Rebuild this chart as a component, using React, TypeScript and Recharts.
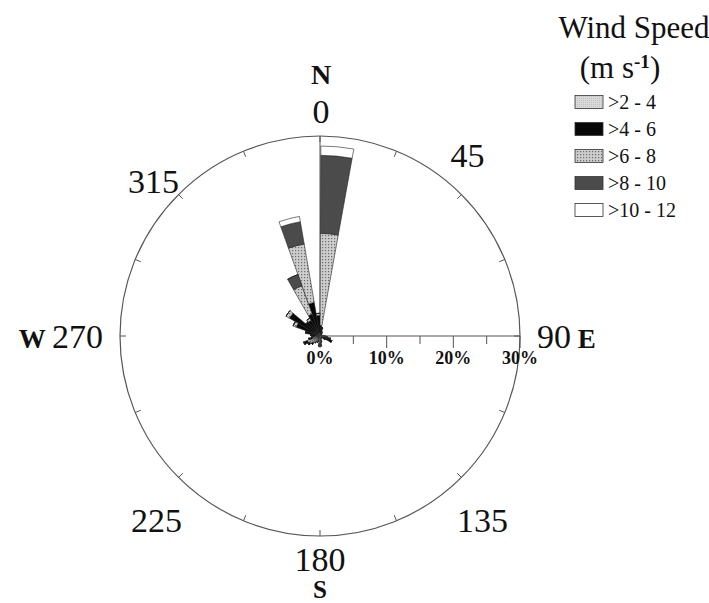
import { RadialBarChart, RadialBar, PolarAngleAxis, PolarRadiusAxis, PolarGrid } from 'recharts'

// centre of each 10° direction bin, clockwise from north
const BIN_CENTERS = [
  5, 15, 25, 35, 45, 55, 65, 75, 85,
  95, 105, 115, 125, 135, 145, 155, 165, 175,
  185, 195, 205, 215, 225, 235, 245, 255, 265,
  275, 285, 295, 305, 315, 325, 335, 345, 355,
]

// frequency (%) of each speed class per direction bin
const S2_4 = [
  0.6, 0.5, 0.4, 0.3, 0.3, 0.3, 0.2, 0.3, 0.4,
  0.5, 0.6, 0.5, 0.4, 0.3, 0.3, 0.4, 0.6, 1.0,
  1.1, 0.8, 1.0, 1.2, 1.4, 1.8, 2.0, 1.2, 0.8,
  0.6, 0.6, 0.5, 0.5, 0.4, 0.5, 0.5, 0.6, 0.5,
]
const S4_6 = [
  1.0, 0.8, 0.3, 0.2, 0, 0, 0, 0, 0.3,
  0.6, 1.0, 1.4, 0.5, 0, 0, 0, 0.3, 0.5,
  0.4, 0, 0, 0, 0.3, 0.3, 0.6, 0.5, 0.4,
  0.8, 1.6, 3.3, 4.8, 2.4, 2.2, 3.0, 4.5, 2.6,
]
const S6_8 = [
  13.8, 0, 0, 0, 0, 0, 0, 0, 0,
  0, 0, 0, 0, 0, 0, 0, 0, 0,
  0, 0, 0, 0, 0, 0, 0, 0, 0,
  0, 0, 0.5, 0.6, 0, 0.4, 4.5, 8.9, 0.3,
]
const S8_10 = [
  11.7, 0, 0, 0, 0, 0, 0, 0, 0,
  0, 0, 0, 0, 0, 0, 0, 0, 0,
  0, 0, 0, 0, 0, 0, 0, 0, 0,
  0, 0, 0, 0, 0, 0, 1.8, 3.4, 0,
]
const S10_12 = [
  1.4, 0, 0, 0, 0, 0, 0, 0, 0,
  0, 0, 0, 0, 0, 0, 0, 0, 0,
  0, 0, 0, 0, 0, 0, 0, 0, 0,
  0, 0, 0, 0, 0, 0, 0, 0.8, 0,
]

const SPEED_LABELS = ['>2 - 4', '>4 - 6', '>6 - 8', '>8 - 10', '>10 - 12']

const COMPASS_TICKS = [0, 22.5, 45, 67.5, 90, 112.5, 135, 157.5, 180, 202.5, 225, 247.5, 270, 292.5, 315, 337.5]
const COMPASS_LABELS = ['0', '45', '90', '135', '180', '225', '270', '315']
const CARDINALS: Record<string, string> = { '0': 'N', '90': 'E', '180': 'S', '270': 'W' }
const PCT_TICKS = [0, 5, 10, 15, 20, 25, 30]

const rows = BIN_CENTERS.map((deg, i) => ({
  deg,
  s1: S2_4[i],
  s2: S4_6[i],
  s3: S6_8[i],
  s4: S8_10[i],
  s5: S10_12[i],
}))

const SERIES = [
  { key: 's1', fill: 'url(#grain)' },
  { key: 's2', fill: '#080808' },
  { key: 's3', fill: 'url(#dots)' },
  { key: 's4', fill: '#4b4b4b' },
  { key: 's5', fill: '#ffffff' },
]

const SERIF = '"Liberation Serif", "Times New Roman", serif'
const LINE = '#555'

// where each degree label sits relative to its point on the circle
const LABEL_SPOT: Record<string, { dx: number; dy: number; anchor: string }> = {
  '0': { dx: 1, dy: -13, anchor: 'middle' },
  '45': { dx: 6, dy: -28, anchor: 'middle' },
  '90': { dx: 17, dy: 12, anchor: 'start' },
  '135': { dx: 21, dy: 55, anchor: 'middle' },
  '180': { dx: 0, dy: 35, anchor: 'middle' },
  '225': { dx: -22, dy: 55, anchor: 'middle' },
  '270': { dx: -17, dy: 12, anchor: 'end' },
  '315': { dx: -25, dy: -2, anchor: 'middle' },
}

const RAD = Math.PI / 180
const polar = (cx: number, cy: number, r: number, angle: number) => ({
  x: cx + r * Math.cos(-angle * RAD),
  y: cy + r * Math.sin(-angle * RAD),
})

function CompassTick(props: any) {
  const { cx, cy, radius, payload } = props
  const angle = payload.coordinate
  const outer = polar(cx, cy, radius, angle)
  const inner = polar(cx, cy, radius - 6, angle)
  const value = payload.value
  const label = value % 45 === 0 ? COMPASS_LABELS[value / 45] : null
  const spot = label ? LABEL_SPOT[label] : null
  const card = label ? CARDINALS[label] : undefined
  return (
    <g>
      <line x1={outer.x} y1={outer.y} x2={inner.x} y2={inner.y} stroke={LINE} strokeWidth={1} />
      {label && spot && (
        <text
          x={outer.x + spot.dx}
          y={outer.y + spot.dy}
          textAnchor={spot.anchor as any}
          fontFamily={SERIF}
          fontSize={34}
          fill="#111"
        >
          {card === 'W' && <tspan fontWeight="bold" fontSize={27}>W </tspan>}
          {label}
          {card === 'E' && <tspan fontWeight="bold" fontSize={27}> E</tspan>}
        </text>
      )}
      {card === 'N' && (
        <text x={outer.x + 1} y={outer.y - 52} textAnchor="middle" fontFamily={SERIF} fontSize={28} fontWeight="bold" fill="#111">
          N
        </text>
      )}
      {card === 'S' && (
        <text x={outer.x} y={outer.y + 62} textAnchor="middle" fontFamily={SERIF} fontSize={25} fontWeight="bold" fill="#111">
          S
        </text>
      )}
    </g>
  )
}

function PercentTick(props: any) {
  const { x, y, payload } = props
  const major = payload.value % 10 === 0
  return (
    <g>
      <line x1={x} y1={y} x2={x} y2={y + (major ? 12 : 8)} stroke={LINE} strokeWidth={1} />
      {major && (
        <text x={x} y={y + 28} textAnchor="middle" fontFamily={SERIF} fontSize={18} fontWeight="bold" fill="#111">
          {payload.value}%
        </text>
      )}
    </g>
  )
}

function SpeedLegend() {
  return (
    <svg width={160} height={230} style={{ position: 'absolute', left: 549, top: 0 }}>
      <text x={85} y={38} textAnchor="middle" fontFamily={SERIF} fontSize={31} fill="#111">
        Wind Speed
      </text>
      <text x={71} y={78} textAnchor="middle" fontFamily={SERIF} fontSize={31} fill="#111">
        (m s
        <tspan dy={-10} fontSize={19} fontWeight="bold">
          -1
        </tspan>
        <tspan dy={10}>)</tspan>
      </text>
      {SPEED_LABELS.map((name, i) => {
        const cy = 102 + i * 27
        return (
          <g key={name}>
            <rect x={26} y={cy - 6.5} width={28} height={13} fill={SERIES[i].fill} stroke="#333" strokeWidth={0.8} />
            <text x={59} y={cy + 7} fontFamily={SERIF} fontSize={20} fill="#111">
              {name}
            </text>
          </g>
        )
      })}
    </svg>
  )
}

export default function App() {
  return (
    <div style={{ position: 'absolute', left: 0, top: 0, width: 709, height: 603, background: '#fff' }}>
      <RadialBarChart
        width={709}
        height={603}
        data={rows}
        layout="centric"
        cx={320}
        cy={336}
        innerRadius={0}
        outerRadius={200}
        startAngle={90}
        endAngle={-270}
        barSize={10}
        barCategoryGap={0}
        barGap={0}
        margin={{ top: 0, right: 0, bottom: 0, left: 0 }}
      >
        <defs>
          <pattern id="dots" width={3} height={3} patternUnits="userSpaceOnUse">
            <rect width={3} height={3} fill="#cdcdcd" />
            <rect x={1} y={1} width={1.2} height={1.2} fill="#6a6a6a" />
          </pattern>
          <pattern id="grain" width={2} height={2} patternUnits="userSpaceOnUse">
            <rect width={2} height={2} fill="#dadada" />
            <rect width={1} height={1} fill="#bdbdbd" />
          </pattern>
        </defs>
        <PolarGrid gridType="circle" polarAngles={[90]} polarRadius={[]} stroke={LINE} />
        <PolarAngleAxis
          dataKey="deg"
          type="number"
          domain={[0, 360]}
          ticks={COMPASS_TICKS}
          tick={CompassTick}
          tickLine={false}
          axisLine={{ stroke: LINE, strokeWidth: 1.2 }}
          axisLineType="circle"
          allowDataOverflow
        />
        <PolarRadiusAxis
          angle={0}
          type="number"
          domain={[0, 30]}
          ticks={PCT_TICKS}
          tick={PercentTick}
          tickLine={false}
          axisLine={{ stroke: LINE, strokeWidth: 1 }}
        />
        {SERIES.map((s) => (
          <RadialBar
            key={s.key}
            dataKey={s.key}
            stackId="wind"
            fill={s.fill}
            stroke="#222"
            strokeWidth={0.6}
            isAnimationActive={false}
          />
        ))}
      </RadialBarChart>
      <SpeedLegend />
    </div>
  )
}
